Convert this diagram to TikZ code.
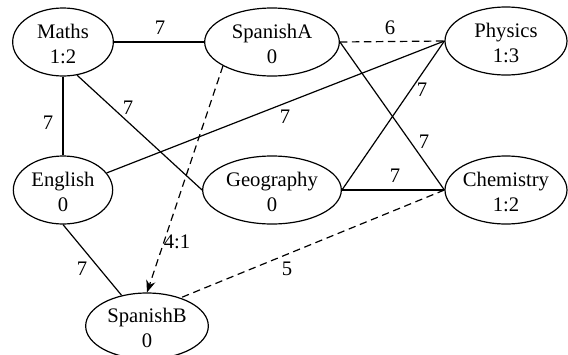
\documentclass[tikz,border=0pt]{standalone}
\usepackage{fontspec}
\setmainfont{Liberation Serif}
\usetikzlibrary{shapes.geometric,arrows.meta}

\begin{document}
\begin{tikzpicture}[x=0.75pt,y=-0.75pt]
  \tikzset{SubjectStyle/.style={draw,ellipse,line width=0.9pt,inner sep=0pt,
      minimum height=51pt,minimum width=#1,align=center,
      text height=31.5pt,text depth=0pt,
      font=\fontsize{15.5}{18.75}\selectfont},
    LinkStyle/.style={line width=0.9pt},
    SwapStyle/.style={line width=0.9pt,dash pattern=on 5.5pt off 3.5pt},
    WeightStyle/.style={inner sep=0pt,font=\fontsize{15.5}{18}\selectfont}
  }
  \useasboundingbox (0,0) rectangle (568,354);
  % subjects
  \node[SubjectStyle=75.5pt] (maths) at (63,42) {Maths\\1:2};
  \node[SubjectStyle=101pt] (spa) at (272,42) {SpanishA\\0};
  \node[SubjectStyle=91.5pt] (phy) at (506,41) {Physics\\1:3};
  \node[SubjectStyle=74.5pt] (eng) at (63,190) {English\\0};
  \node[SubjectStyle=104pt] (geo) at (272,190) {Geography\\0};
  \node[SubjectStyle=91.5pt] (chem) at (506,190) {Chemistry\\1:2};
  \node[SubjectStyle=92pt,minimum height=49.5pt] (spb) at (147,326) {SpanishB\\0};
  % clashes
  \draw[LinkStyle] (maths.east) -- (spa.west);
  \draw[LinkStyle] (maths) -- (eng);
  \draw[LinkStyle] (maths.293) -- (geo.west);
  \draw[LinkStyle] (spa.east) -- (chem.west);
  \draw[LinkStyle] (phy.west) -- (eng);
  \draw[LinkStyle] (geo.east) -- (phy.west);
  \draw[LinkStyle] (geo.east) -- (chem.west);
  \draw[LinkStyle] (eng.south) -- (spb);
  % options
  \draw[SwapStyle] (spa.east) -- (phy.west);
  \draw[SwapStyle] (chem.west) -- (spb.40);
  \draw[SwapStyle,-{Stealth[length=9pt,width=7pt]}] (spa.206) -- (spb.north);
  % weights
  \node[WeightStyle] (w1) at (160,28) {7};
  \node[WeightStyle] (w2) at (390,28) {6};
  \node[WeightStyle] (w3) at (48,123) {7};
  \node[WeightStyle] (w4) at (128,108) {7};
  \node[WeightStyle] (w5) at (285,117) {7};
  \node[WeightStyle] (w6) at (422,90) {7};
  \node[WeightStyle] (w7) at (424,142) {7};
  \node[WeightStyle] (w8) at (395,176) {7};
  \node[WeightStyle] (w9) at (82,269) {7};
  \node[WeightStyle] (w10) at (177,242) {4:1};
  \node[WeightStyle] (w11) at (287,269) {5};
\end{tikzpicture}
\end{document}
